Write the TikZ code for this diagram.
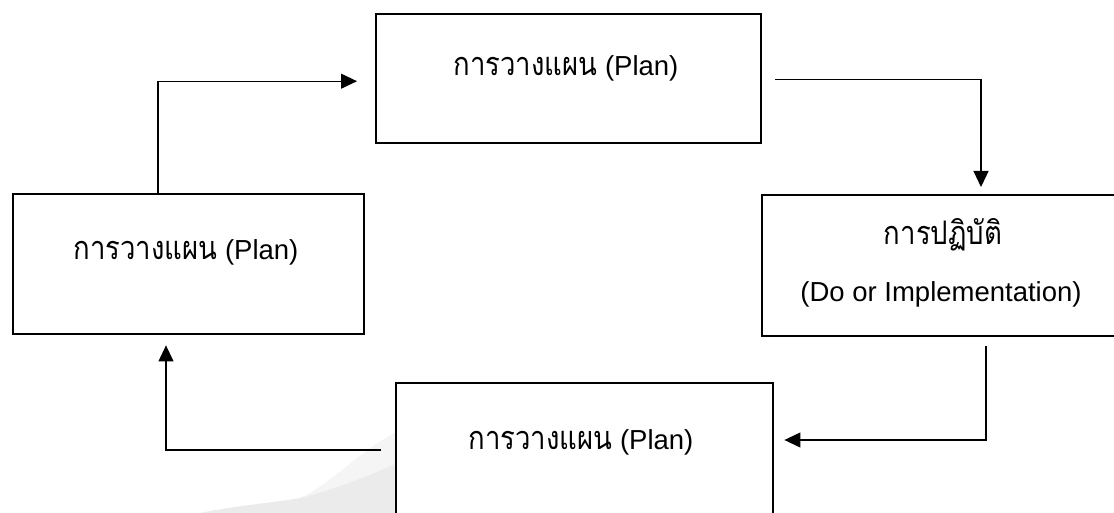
\documentclass[tikz,border=0pt]{standalone}
\usepackage{fontspec}
\setmainfont{Liberation Sans}
\newfontfamily\thaifont[Script=Thai]{Loma}
\newcommand\thaitxt[1]{\scalebox{1}[1.18]{\thaifont #1}}
\usetikzlibrary{arrows.meta}
\tikzset{
  box/.style={draw=black, fill=white, line width=2.4pt, anchor=north west, inner sep=0pt},
  lbl/.style={font=\fontsize{27.5}{32}\selectfont, inner sep=0pt, anchor=base},
  arr/.style={draw=black, line width=1.1pt, -{Triangle[length=16pt,width=15pt]}},
}
\begin{document}
\begin{tikzpicture}[x=1pt,y=-1pt]
\useasboundingbox (0,0) rectangle (1114,513);
\clip (0,0) rectangle (1114,513);
\fill[white] (0,0) rectangle (1114,513);
% faint background swoosh
\fill[black!4] (300,498) .. controls (330,485) and (360,450) .. (400,430) -- (400,470) -- cycle;
\fill[black!8] (200,513) .. controls (240,505) and (280,502) .. (300,498) .. controls (340,488) and (370,475) .. (400,462) -- (400,513) -- cycle;
% boxes
\node[box, minimum width=385pt, minimum height=129pt] (top) at (375,13) {};
\node[box, minimum width=351pt, minimum height=140pt] (lft) at (12,193) {};
\node[box, minimum width=370pt, minimum height=141pt] (rgt) at (761,194) {};
\node[box, minimum width=377pt, minimum height=150pt] (bot) at (395,382) {};
% texts
\node[lbl] (ttop) at (566,76) {\thaitxt{การวางแผน} (Plan)};
\node[lbl] (tlft) at (186,259) {\thaitxt{การวางแผน} (Plan)};
\node[lbl] (trgt1) at (943,245) {\thaitxt{การปฏิบัติ}};
\node[lbl] (trgt2) at (941,301) {(Do or Implementation)};
\node[lbl] (tbot) at (581,449) {\thaitxt{การวางแผน} (Plan)};
% connectors
\draw[arr, shorten >=18pt] ([xshift=146pt]lft.north west) |- ([yshift=-2.5pt]top.west);
\draw[arr, shorten <=13pt, shorten >=7pt] ([yshift=-1pt]top.east) -| ([xshift=220pt]rgt.north west);
\draw[arr, shorten <=9pt, shorten >=10pt] ([xshift=225pt]rgt.south west) |- ([yshift=-58pt]bot.north east);
\draw[arr, shorten <=14pt, shorten >=10pt] ([yshift=-68pt]bot.north west) -| ([xshift=154pt]lft.south west);
\end{tikzpicture}
\end{document}
